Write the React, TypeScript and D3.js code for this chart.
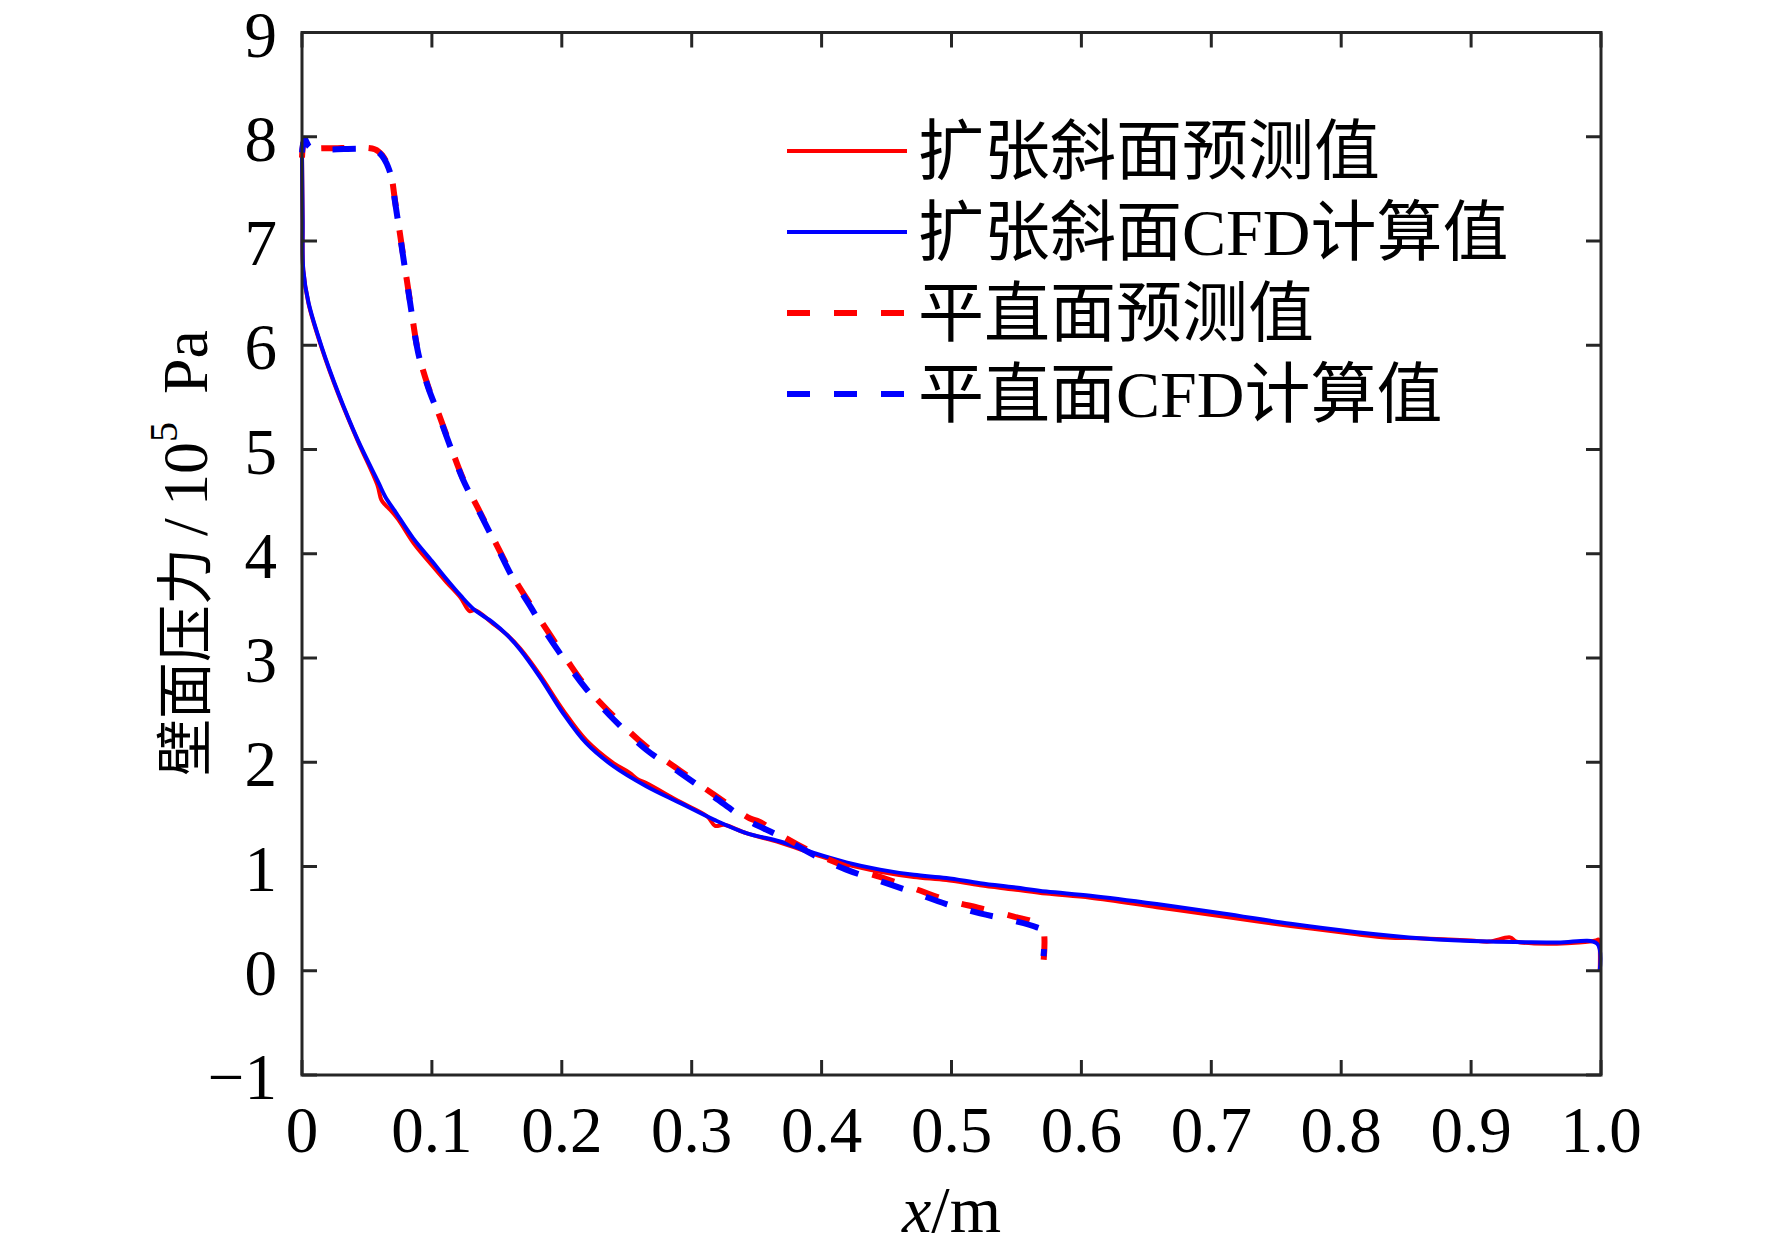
import React from 'react';
import * as d3 from 'd3';

type Pt = [number, number];

// 扩张斜面 (expansion slope) – predicted and CFD
const slopePred: Pt[] = [
  [0, 7.85], [0.0005, 7.2], [0.001, 6.72], [0.005, 6.4], [0.015, 5.98], [0.028, 5.53],
  [0.043, 5.08], [0.058, 4.66], [0.061, 4.52], [0.064, 4.47], [0.068, 4.42], [0.074, 4.33],
  [0.086, 4.1], [0.1, 3.89], [0.111, 3.73], [0.122, 3.58], [0.129, 3.45], [0.133, 3.46],
  [0.147, 3.33], [0.158, 3.22], [0.168, 3.09], [0.183, 2.84], [0.201, 2.5], [0.219, 2.21],
  [0.24, 1.99], [0.252, 1.9], [0.258, 1.84], [0.265, 1.8], [0.291, 1.62], [0.312, 1.48],
  [0.318, 1.39], [0.325, 1.4], [0.342, 1.32], [0.368, 1.23], [0.394, 1.12], [0.419, 1.02],
  [0.445, 0.95], [0.471, 0.9], [0.496, 0.87], [0.522, 0.82], [0.548, 0.78], [0.573, 0.74],
  [0.607, 0.7], [0.658, 0.61], [0.709, 0.52], [0.761, 0.43], [0.812, 0.35], [0.835, 0.32],
  [0.863, 0.31], [0.9, 0.29], [0.914, 0.28], [0.93, 0.32], [0.935, 0.28], [0.966, 0.26],
  [0.996, 0.29], [0.998, 0.3], [0.999, 0.0],
];

const slopeCfd: Pt[] = [
  [0, 7.82], [0.0005, 7.2], [0.001, 6.72], [0.005, 6.41], [0.015, 5.99], [0.028, 5.54],
  [0.043, 5.09], [0.059, 4.68], [0.064, 4.55], [0.072, 4.4], [0.0855, 4.15], [0.1, 3.93],
  [0.111, 3.76], [0.122, 3.6], [0.132, 3.47], [0.147, 3.34], [0.158, 3.22], [0.168, 3.08],
  [0.183, 2.82], [0.201, 2.47], [0.219, 2.18], [0.24, 1.96], [0.265, 1.77], [0.291, 1.61],
  [0.317, 1.45], [0.342, 1.32], [0.368, 1.24], [0.394, 1.13], [0.419, 1.04], [0.445, 0.97],
  [0.471, 0.92], [0.496, 0.89], [0.522, 0.84], [0.548, 0.8], [0.573, 0.76], [0.607, 0.72],
  [0.658, 0.64], [0.709, 0.55], [0.761, 0.45], [0.812, 0.37], [0.863, 0.31], [0.914, 0.28],
  [0.966, 0.27], [0.997, 0.26], [0.999, 0.0],
];

// 平直面 (flat wall) – predicted and CFD
const flatPred: Pt[] = [
  [0, 7.8], [0.002, 7.97], [0.006, 7.9], [0.018, 7.89], [0.056, 7.88], [0.062, 7.82],
  [0.068, 7.66], [0.0717, 7.38], [0.0767, 6.96], [0.0832, 6.42], [0.0894, 5.94], [0.097, 5.61],
  [0.1047, 5.36], [0.115, 5.01], [0.124, 4.72], [0.137, 4.4], [0.15, 4.08], [0.163, 3.77],
  [0.176, 3.51], [0.19, 3.24], [0.204, 2.98], [0.219, 2.72], [0.24, 2.44], [0.265, 2.15],
  [0.291, 1.92], [0.317, 1.69], [0.345, 1.46], [0.352, 1.43], [0.366, 1.32], [0.394, 1.13],
  [0.419, 1.0], [0.445, 0.9], [0.471, 0.79], [0.496, 0.68], [0.522, 0.6], [0.548, 0.52],
  [0.565, 0.46], [0.5705, 0.4], [0.5708, 0.08],
];

const flatCfd: Pt[] = [
  [0, 7.85], [0.002, 7.98], [0.006, 7.9], [0.018, 7.88], [0.056, 7.87], [0.062, 7.81],
  [0.068, 7.65], [0.0717, 7.37], [0.0767, 6.95], [0.0832, 6.41], [0.0894, 5.93], [0.097, 5.6],
  [0.1047, 5.35], [0.115, 5.0], [0.124, 4.71], [0.137, 4.39], [0.15, 4.07], [0.163, 3.75],
  [0.176, 3.49], [0.188, 3.24], [0.204, 2.95], [0.219, 2.7], [0.24, 2.41], [0.265, 2.12],
  [0.291, 1.9], [0.317, 1.67], [0.342, 1.45], [0.368, 1.29], [0.394, 1.11], [0.419, 0.97],
  [0.445, 0.86], [0.471, 0.75], [0.496, 0.64], [0.522, 0.55], [0.548, 0.48], [0.565, 0.42],
  [0.5705, 0.38], [0.5708, 0.14],
];

const xTicks = [0, 0.1, 0.2, 0.3, 0.4, 0.5, 0.6, 0.7, 0.8, 0.9, 1.0];
const xTickLabels = ['0', '0.1', '0.2', '0.3', '0.4', '0.5', '0.6', '0.7', '0.8', '0.9', '1.0'];
const yTicks = [-1, 0, 1, 2, 3, 4, 5, 6, 7, 8, 9];
const yTickLabels = ['\u22121', '0', '1', '2', '3', '4', '5', '6', '7', '8', '9'];

const legendLabels = ['扩张斜面预测值', '扩张斜面CFD计算值', '平直面预测值', '平直面CFD计算值'];

const RED = '#ff0000';
const BLUE = '#0000ff';
const AXIS = '#262626';
const FONT = "'Liberation Serif', 'Times New Roman', 'Noto Sans CJK SC', serif";

const App: React.FC = () => {
  const width = 1772;
  const height = 1251;
  const left = 302;
  const right = 1601;
  const top = 32.5;
  const bottom = 1075;
  const tick = 15;

  const x = d3.scaleLinear().domain([0, 1]).range([left, right]);
  const y = d3.scaleLinear().domain([-1, 9]).range([bottom, top]);

  const line = d3.line<Pt>()
    .x(d => x(d[0]))
    .y(d => y(d[1]))
    .curve(d3.curveCatmullRom.alpha(0.5));

  const series = [
    { data: slopePred, color: RED, dashed: false, offset: 0 },
    { data: slopeCfd, color: BLUE, dashed: false, offset: 0 },
    { data: flatPred, color: RED, dashed: true, offset: 8 },
    { data: flatCfd, color: BLUE, dashed: true, offset: 0 },
  ];

  const legendX0 = 787;
  const legendX1 = 907;
  const legendY0 = 151;
  const legendStep = 81;

  return (
    <svg
      width={width}
      height={height}
      viewBox={`0 0 ${width} ${height}`}
      style={{ position: 'absolute', left: 0, top: 0, background: '#fff' }}
    >
      <rect x={0} y={0} width={width} height={height} fill="#fff" />

      {/* data lines */}
      <g fill="none" strokeLinejoin="round">
        {series.map((s, i) => (
          <path
            key={i}
            d={line(s.data) || ''}
            stroke={s.color}
            strokeWidth={s.dashed ? 6 : 4}
            strokeDasharray={s.dashed ? '23,24' : undefined}
            strokeDashoffset={s.offset}
          />
        ))}
      </g>

      {/* box and ticks */}
      <g stroke={AXIS} strokeWidth={3} fill="none">
        <rect x={left} y={top} width={right - left} height={bottom - top} />
        {xTicks.map((t, i) => (
          <g key={`xt${i}`}>
            <line x1={x(t)} x2={x(t)} y1={bottom} y2={bottom - tick} />
            <line x1={x(t)} x2={x(t)} y1={top} y2={top + tick} />
          </g>
        ))}
        {yTicks.map((t, i) => (
          <g key={`yt${i}`}>
            <line x1={left} x2={left + tick} y1={y(t)} y2={y(t)} />
            <line x1={right} x2={right - tick} y1={y(t)} y2={y(t)} />
          </g>
        ))}
      </g>

      {/* tick labels */}
      <g fontFamily={FONT} fontSize={65} fill="#000">
        {xTicks.map((t, i) => (
          <text key={`xl${i}`} x={x(t)} y={1152} textAnchor="middle">
            {xTickLabels[i]}
          </text>
        ))}
        {yTicks.map((t, i) => (
          <text key={`yl${i}`} x={277} y={y(t) + 24} textAnchor="end">
            {yTickLabels[i]}
          </text>
        ))}
      </g>

      {/* axis titles */}
      <text x={(left + right) / 2} y={1232} textAnchor="middle" fontFamily={FONT} fontSize={66}>
        <tspan fontStyle="italic">x</tspan>/m
      </text>
      <text
        transform={`translate(185, 553) rotate(-90)`}
        textAnchor="middle"
        dominantBaseline="central"
        fontFamily={FONT}
        fontSize={64}
      >
        <tspan fontSize={57}>壁面压力</tspan>
        <tspan dx={12}>/</tspan>
        <tspan dx={12}>10</tspan>
        <tspan fontSize={40} dy={-22}>5</tspan>
        <tspan dy={22} dx={12}> Pa</tspan>
      </text>

      {/* legend */}
      <g>
        {legendLabels.map((label, i) => {
          const s = series[i];
          const ly = legendY0 + i * legendStep;
          return (
            <g key={`lg${i}`}>
              <line
                x1={legendX0}
                x2={legendX1}
                y1={ly}
                y2={ly}
                stroke={s.color}
                strokeWidth={s.dashed ? 6 : 4}
                strokeDasharray={s.dashed ? '23,24' : undefined}
              />
              <text
                x={918}
                y={ly}
                dominantBaseline="central"
                fontFamily={FONT}
                fontSize={66}
                fill="#000"
              >
                {label}
              </text>
            </g>
          );
        })}
      </g>
    </svg>
  );
};

export default App;
